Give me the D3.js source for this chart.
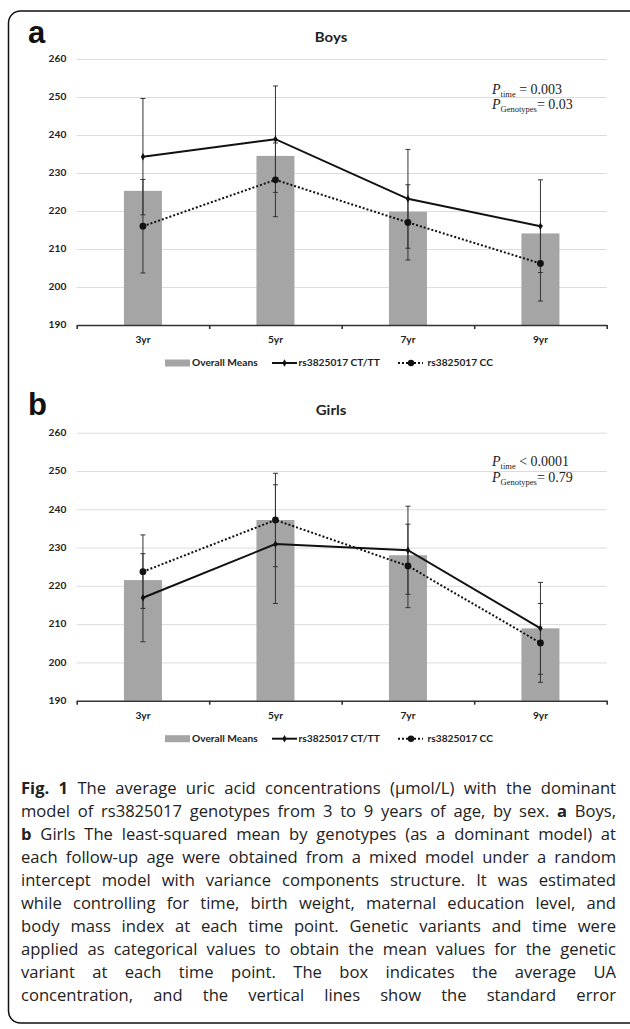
<!DOCTYPE html>
<html lang="en">
<head>
<meta charset="utf-8">
<title>Uric acid by rs3825017 genotype</title>
<script src="https://cdn.jsdelivr.net/npm/d3@7"></script>
<style>
  body { margin: 0; background: #fff; }
  svg text { font-family: Lato, "Open Sans", sans-serif; }
</style>
</head>
<body>
<script>

// categories and tick values
var categories = ["3yr", "5yr", "7yr", "9yr"];
var yTicks = [190, 200, 210, 220, 230, 240, 250, 260];
var legendLabels = ["Overall Means", "rs3825017 CT/TT", "rs3825017 CC"];

// Boys (panel a)
var boysMeans = [225.3, 234.5, 219.8, 214.1];
var boysCtTt = [234.3, 238.9, 223.2, 216.0];
var boysCtTtSe = [15.3, 14.0, 13.0, 12.2];
var boysCc = [216.0, 228.2, 217.0, 206.2];
var boysCcSe = [12.3, 9.7, 9.9, 9.9];

// Girls (panel b)
var girlsMeans = [221.5, 237.2, 228.0, 208.9];
var girlsCtTt = [216.9, 230.9, 229.3, 208.9];
var girlsCtTtSe = [11.5, 15.5, 11.5, 12.0];
var girlsCc = [223.7, 237.2, 225.2, 205.1];
var girlsCcSe = [9.6, 12.2, 10.9, 10.3];

// caption lines (** marks a bold word)
var captionLines = [
  "**Fig. **1 The average uric acid concentrations (\u03bcmol/L) with the dominant",
  "model of rs3825017 genotypes from 3 to 9 years of age, by sex. **a Boys,",
  "**b Girls The least-squared mean by genotypes (as a dominant model) at",
  "each follow-up age were obtained from a mixed model under a random",
  "intercept model with variance components structure. It was estimated",
  "while controlling for time, birth weight, maternal education level, and",
  "body mass index at each time point. Genetic variants and time were",
  "applied as categorical values to obtain the mean values for the genetic",
  "variant at each time point. The box indicates the average UA",
  "concentration, and the vertical lines show the standard error"
];

var W = 630, H = 1029;
var SX = 1.2;          // chart text is a bit stretched sideways
var left = 76.7, right = 606.7;

var svg = d3.select("body").append("svg")
  .attr("width", W).attr("height", H);

// outer frame
svg.append("rect")
  .attr("x", 8.5).attr("y", 11)
  .attr("width", 700).attr("height", 1012)
  .attr("rx", 12)
  .attr("fill", "none").attr("stroke", "#111").attr("stroke-width", 1.5);

var panels = [
  { letter: "a", title: "Boys", y190: 325, y260: 59, letterY: 43, titleY: 42,
    means: boysMeans, ct: boysCtTt, ctSe: boysCtTtSe, cc: boysCc, ccSe: boysCcSe,
    p1: ["time", " = 0.003"], p2: ["Genotypes", "= 0.03"], pY: [94, 109] },
  { letter: "b", title: "Girls", y190: 700.7, y260: 432.7, letterY: 415, titleY: 415,
    means: girlsMeans, ct: girlsCtTt, ctSe: girlsCtTtSe, cc: girlsCc, ccSe: girlsCcSe,
    p1: ["time", " < 0.0001"], p2: ["Genotypes", "= 0.79"], pY: [466, 482] }
];

panels.forEach(drawPanel);
drawCaption();

function drawPanel(p) {
  var g = svg.append("g");

  var x = d3.scaleBand().domain(categories).range([left, right]);
  var y = d3.scaleLinear().domain([190, 260]).range([p.y190, p.y260]);

  // panel letter
  g.append("text")
    .attr("x", 28).attr("y", p.letterY)
    .style("font-family", "'Liberation Sans', Arial, sans-serif")
    .style("font-weight", "bold").style("font-size", "31px")
    .attr("fill", "#111")
    .text(p.letter);

  // title
  g.append("text")
    .attr("transform", "translate(331," + p.titleY + ") scale(" + SX + ",1)")
    .attr("text-anchor", "middle")
    .style("font-weight", "bold").style("font-size", "12.5px")
    .attr("fill", "#222")
    .text(p.title);

  // gridlines
  var grid = g.append("g")
    .attr("transform", "translate(" + left + ",0)")
    .call(d3.axisLeft(y).tickValues(yTicks.slice(1)).tickSize(-(right - left)).tickFormat(""));
  grid.select(".domain").remove();
  grid.selectAll("line").attr("stroke", "#dcdcdc").attr("stroke-width", 1);

  // y labels
  var ya = g.append("g")
    .attr("transform", "translate(" + left + ",0)")
    .call(d3.axisLeft(y).tickValues(yTicks).tickSize(0).tickPadding(0));
  ya.select(".domain").remove();
  ya.selectAll("text")
    .attr("transform", "translate(-10.4,0) scale(" + SX + ",1)")
    .style("font-family", "Lato, sans-serif")
    .style("font-weight", "bold").style("font-size", "8.5px")
    .attr("fill", "#222");

  // bars
  var bw = 38;
  g.selectAll("rect.bar")
    .data(p.means)
    .join("rect")
    .attr("class", "bar")
    .attr("x", function(d, i) { return x(categories[i]) + (x.bandwidth() - bw) / 2; })
    .attr("y", function(d) { return y(d); })
    .attr("width", bw)
    .attr("height", function(d) { return y(190) - y(d); })
    .attr("fill", "#a5a5a5");

  // bottom axis: line + ticks between categories
  var edge = d3.scaleLinear().domain([0, categories.length]).range([left, right]);
  var xb = g.append("g")
    .attr("transform", "translate(0," + y(190) + ")")
    .call(d3.axisBottom(edge).ticks(categories.length).tickSize(4).tickSizeOuter(0).tickFormat(""));
  xb.selectAll("path, line").attr("stroke", "#333").attr("stroke-width", 1.6);

  // x labels
  var xl = g.append("g")
    .attr("transform", "translate(0," + y(190) + ")")
    .call(d3.axisBottom(x).tickSize(0).tickPadding(0));
  xl.select(".domain").remove();
  xl.selectAll("text")
    .attr("transform", "translate(0,12) scale(" + SX + ",1)")
    .style("font-family", "Lato, sans-serif")
    .style("font-weight", "bold").style("font-size", "8.5px")
    .attr("fill", "#222");

  var cx = function(i) { return x(categories[i]) + x.bandwidth() / 2; };

  // error bars
  function errorBars(vals, se) {
    var eg = g.append("g").attr("stroke", "#333").attr("stroke-width", 1);
    vals.forEach(function(v, i) {
      var hi = y(v + se[i]), lo = y(v - se[i]);
      eg.append("line").attr("x1", cx(i)).attr("x2", cx(i)).attr("y1", hi).attr("y2", lo);
      eg.append("line").attr("x1", cx(i) - 2.5).attr("x2", cx(i) + 2.5).attr("y1", hi).attr("y2", hi);
      eg.append("line").attr("x1", cx(i) - 2.5).attr("x2", cx(i) + 2.5).attr("y1", lo).attr("y2", lo);
    });
  }
  errorBars(p.ct, p.ctSe);
  errorBars(p.cc, p.ccSe);

  var line = d3.line()
    .x(function(d, i) { return cx(i); })
    .y(function(d) { return y(d); });

  // CC dotted
  g.append("path").datum(p.cc)
    .attr("d", line)
    .attr("fill", "none").attr("stroke", "#111").attr("stroke-width", 2)
    .attr("stroke-dasharray", "2,2");
  g.selectAll("circle.cc").data(p.cc).join("circle")
    .attr("class", "cc")
    .attr("cx", function(d, i) { return cx(i); })
    .attr("cy", function(d) { return y(d); })
    .attr("r", 3.4).attr("fill", "#111");

  // CT/TT solid
  g.append("path").datum(p.ct)
    .attr("d", line)
    .attr("fill", "none").attr("stroke", "#111").attr("stroke-width", 2);
  var diamond = d3.symbol().type(d3.symbolDiamond).size(16);
  g.selectAll("path.ct").data(p.ct).join("path")
    .attr("class", "ct")
    .attr("d", diamond)
    .attr("transform", function(d, i) { return "translate(" + cx(i) + "," + y(d) + ")"; })
    .attr("fill", "#111");

  // P-value annotation
  var pt = [p.p1, p.p2];
  pt.forEach(function(pp, k) {
    var t = g.append("text")
      .attr("x", 492).attr("y", p.pY[k])
      .style("font-family", "'Liberation Serif', 'Times New Roman', serif")
      .style("font-size", "14px").attr("fill", "#222");
    t.append("tspan").style("font-style", "italic").text("P");
    t.append("tspan").style("font-size", "8.5px").attr("dy", 3).text(pp[0]);
    t.append("tspan").attr("dy", -3).text(pp[1]);
  });

  // legend
  var ly = y(190) + 38;
  var lg = g.append("g");
  lg.append("rect").attr("x", 165).attr("y", ly - 3.5).attr("width", 25).attr("height", 7).attr("fill", "#a5a5a5");
  lg.append("line").attr("x1", 272).attr("x2", 297).attr("y1", ly).attr("y2", ly)
    .attr("stroke", "#111").attr("stroke-width", 2);
  lg.append("path").attr("d", diamond).attr("transform", "translate(284.5," + ly + ")").attr("fill", "#111");
  lg.append("line").attr("x1", 398).attr("x2", 423).attr("y1", ly).attr("y2", ly)
    .attr("stroke", "#111").attr("stroke-width", 2).attr("stroke-dasharray", "2,2");
  lg.append("circle").attr("cx", 411).attr("cy", ly).attr("r", 3.2).attr("fill", "#111");
  var lx = [192, 298.5, 427.5];
  legendLabels.forEach(function(s, i) {
    lg.append("text")
      .attr("transform", "translate(" + lx[i] + "," + (ly + 3) + ") scale(" + SX + ",1)")
      .style("font-weight", "bold").style("font-size", "8.5px")
      .attr("fill", "#222")
      .text(s);
  });
}

function drawCaption() {
  var x0 = 21, x1 = 616, y0 = 794, lh = 23;
  captionLines.forEach(function(str, li) {
    var words = str.split(" ").map(function(w) {
      var bold = w.indexOf("**") === 0;
      return { w: w.replace(/\*\*/g, ""), bold: bold };
    });
    // "Fig. 1" is bold as a pair
    if (li === 0) { words[1].bold = true; }
    var row = svg.append("g");
    var nodes = words.map(function(d) {
      return row.append("text")
        .attr("y", y0 + li * lh)
        .style("font-family", "'Open Sans', sans-serif")
        .style("font-size", "16.6px")
        .style("font-weight", d.bold ? "bold" : "normal")
        .attr("fill", "#222")
        .text(d.w);
    });
    // justify: spread the leftover room over the word gaps
    var widths = nodes.map(function(n) { return n.node().getComputedTextLength(); });
    var gap = (x1 - x0 - d3.sum(widths)) / (words.length - 1);
    var cur = x0;
    nodes.forEach(function(n, i) {
      n.attr("x", cur);
      cur += widths[i] + gap;
    });
  });
}

</script>
</body>
</html>
